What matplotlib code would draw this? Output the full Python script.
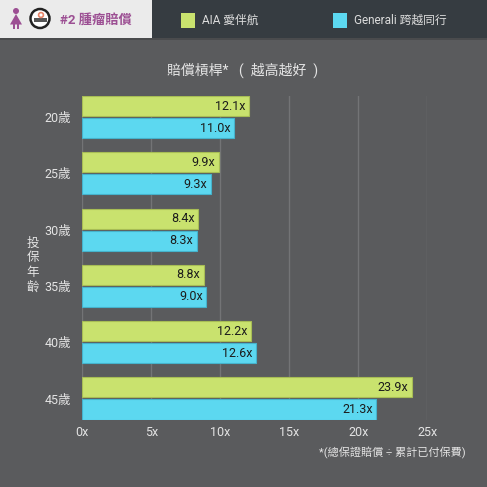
import numpy as np
import matplotlib
matplotlib.use("Agg")
import matplotlib.pyplot as plt
from matplotlib.patches import Rectangle, Circle, Polygon

plt.rcParams['font.family'] = ['Roboto', 'Noto Sans CJK TC', 'DejaVu Sans']

# ---- datos ----
edades = ["20歲", "25歲", "30歲", "35歲", "40歲", "45歲"]
aia = [12.1, 9.9, 8.4, 8.8, 12.2, 23.9]
generali = [11.0, 9.3, 8.3, 9.0, 12.6, 21.3]
xticks = [0, 5, 10, 15, 20, 25]
xtick_labels = ["0x", "5x", "10x", "15x", "20x", "25x"]

fondo = "#5a5b5d"
verde = "#c9e26e"
azul = "#5cd8f0"
texto = "#e4e4e4"

fig = plt.figure(figsize=(4.87, 4.87), dpi=100)
fig.patch.set_facecolor(fondo)

ax = fig.add_axes([82.3/487, 1 - 419.5/487, (427.3 - 82.3)/487, 323.5/487])
ax.set_facecolor(fondo)

y = np.arange(len(edades))
h = 20/56.26
off = h/2 + 1/56.26
b1 = ax.barh(y - off, aia, height=h, color=verde, edgecolor="#a7bd55", linewidth=0.8, zorder=3)
b2 = ax.barh(y + off, generali, height=h, color=azul, edgecolor="#45b3cc", linewidth=0.8, zorder=3)

for barras, vals in ((b1, aia), (b2, generali)):
    for b, v in zip(barras, vals):
        ax.text(v - 0.25, b.get_y() + b.get_height()/2, f"{v:.1f}x",
                ha="right", va="center", fontsize=9, color="#1c1c1c", zorder=4)

ax.set_xlim(0, 25)
ax.set_ylim(5 + 21/56.26, -21/56.26)
ax.set_xticks(xticks)
ax.set_xticklabels(xtick_labels)
ax.set_yticks(y)
ax.set_yticklabels(edades)
ax.tick_params(axis="both", length=0, colors=texto, labelsize=9)
ax.tick_params(axis="x", pad=5)
ax.tick_params(axis="y", pad=8)
ax.grid(axis="x", color="#737476", linewidth=1, zorder=0)
for s in ax.spines.values():
    s.set_visible(False)

# ---- cabecera ----
fig.patches.append(Rectangle((0, 1 - 38/487), 152/487, 38/487, transform=fig.transFigure,
                             facecolor="#ebebeb", edgecolor="none"))
fig.patches.append(Rectangle((152/487, 1 - 38/487), 335/487, 38/487, transform=fig.transFigure,
                             facecolor="#363c41", edgecolor="none"))
fig.patches.append(Rectangle((0, 1 - 39.5/487), 1, 1.5/487, transform=fig.transFigure,
                             facecolor="#4a4b4d", edgecolor="none"))

def px(xp, yp):
    return (xp/487, 1 - yp/487)

morado = "#9c4f93"
fig.patches.append(Circle(px(16, 11), 3/487, transform=fig.transFigure, facecolor=morado))
fig.patches.append(Polygon([px(16, 14), px(10, 24.5), px(22, 24.5)], closed=True,
                           transform=fig.transFigure, facecolor=morado))
fig.patches.append(Rectangle(px(13.3, 29), 2/487, 5/487, transform=fig.transFigure, facecolor=morado))
fig.patches.append(Rectangle(px(16.7, 29), 2/487, 5/487, transform=fig.transFigure, facecolor=morado))
fig.patches.append(Circle(px(40, 18.5), 9.5/487, transform=fig.transFigure,
                          facecolor="white", edgecolor="#222222", linewidth=1.8))
fig.patches.append(Rectangle(px(33.5, 22), 13/487, 3.5/487, transform=fig.transFigure,
                             facecolor="#555555", edgecolor="none"))
fig.patches.append(Circle(px(41, 15), 2.4/487, transform=fig.transFigure,
                          facecolor="none", edgecolor="#e8866a", linewidth=1.2))

fig.text(60/487, 1 - 20/487, "#2 腫瘤賠償", color=morado, fontsize=9.5,
         fontweight="bold", ha="left", va="center")

fig.patches.append(Rectangle(px(181, 28), 14/487, 15/487, transform=fig.transFigure,
                             facecolor=verde, edgecolor="none"))
fig.text(202/487, 1 - 20.5/487, "AIA 愛伴航", color="#dcdcdc", fontsize=8.5, ha="left", va="center")
fig.patches.append(Rectangle(px(333, 28), 14/487, 15/487, transform=fig.transFigure,
                             facecolor=azul, edgecolor="none"))
fig.text(354/487, 1 - 20.5/487, "Generali 跨越同行", color="#dcdcdc", fontsize=8.5, ha="left", va="center")

# ---- títulos ----
fig.text(243/487, 1 - 70/487, "賠償槓桿*   (  越高越好  )", color=texto, fontsize=10,
         ha="center", va="center")
fig.text(33/487, 1 - 265/487, "投\n保\n年\n齡", color=texto, fontsize=9,
         ha="center", va="center", linespacing=1.15)
fig.text(466/487, 1 - 453/487, "*(總保證賠償 ÷ 累計已付保費)", color=texto, fontsize=8,
         ha="right", va="center")

fig.savefig("out.png", dpi=100, facecolor=fondo)
